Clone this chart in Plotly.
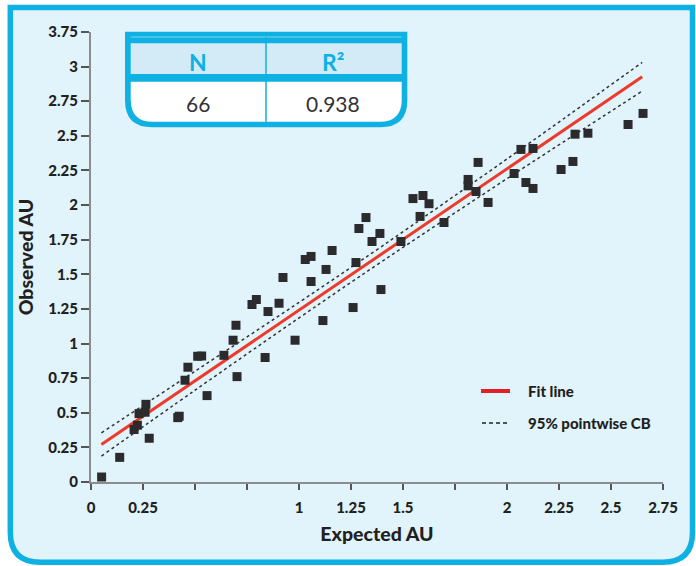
import plotly.graph_objects as go

# ---------------- data ----------------
expected_au = [
    0.051, 0.138, 0.207, 0.223, 0.231, 0.260, 0.264, 0.280, 0.417, 0.424,
    0.452, 0.466, 0.513, 0.532, 0.558, 0.639, 0.683, 0.697, 0.702, 0.774,
    0.795, 0.837, 0.851, 0.904, 0.923, 0.981, 1.030, 1.058, 1.058, 1.115,
    1.130, 1.159, 1.260, 1.274, 1.288, 1.322, 1.351, 1.389, 1.394, 1.490,
    1.548, 1.582, 1.596, 1.625, 1.697, 1.813, 1.813, 1.851, 1.861, 1.909,
    2.034, 2.067, 2.091, 2.125, 2.125, 2.260, 2.317, 2.327, 2.389, 2.582,
    2.654,
]
observed_au = [
    0.036, 0.178, 0.379, 0.410, 0.494, 0.504, 0.561, 0.316, 0.465, 0.475,
    0.735, 0.829, 0.908, 0.910, 0.624, 0.915, 1.024, 1.132, 0.761, 1.282,
    1.318, 0.899, 1.231, 1.291, 1.477, 1.024, 1.607, 1.629, 1.448, 1.166,
    1.535, 1.672, 1.260, 1.585, 1.831, 1.910, 1.737, 1.795, 1.390, 1.737,
    2.047, 1.918, 2.069, 2.010, 1.874, 2.185, 2.139, 2.098, 2.308, 2.019,
    2.228, 2.402, 2.163, 2.409, 2.120, 2.257, 2.315, 2.512, 2.519, 2.582,
    2.662,
]

fit_x = [0.05, 2.65]
fit_y = [0.271, 2.926]

cb_x = [0.05, 0.5, 1.0, 1.4, 2.0, 2.65]
cb_upper = [0.355, 0.800, 1.297, 1.704, 2.333, 3.030]
cb_lower = [0.187, 0.663, 1.185, 1.594, 2.191, 2.823]

x_tickvals = [0, 0.25, 1, 1.25, 1.5, 2, 2.25, 2.5, 2.75]
x_ticktext = ["0", "0.25", "1", "1.25", "1.5", "2", "2.25", "2.5", "2.75"]
y_tickvals = [0, 0.25, 0.5, 0.75, 1, 1.25, 1.5, 1.75, 2, 2.25, 2.5, 2.75, 3, 3.25]
y_ticktext = ["0", "0.25", "0.5", "0.75", "1", "1.25", "1.5", "1.75", "2", "2.25",
              "2.5", "2.75", "3", "3.75"]

table_header = ["N", "R²"]
table_values = ["66", "0.938"]
legend_labels = ["Fit line", "95% pointwise CB"]

# ---------------- layout geometry ----------------
W, H = 696, 566
L, R, T, B = 91, 33, 32, 84
PW, PH = W - L - R, H - T - B

def px(xp):
    return (xp - L) / PW

def py(yp):
    return (H - B - yp) / PH

CYAN = "#0FB1E3"
BG = "#E1F3FB"
HEAD = "#D2EBF7"
DARK = "#231F20"
FONT = "Lato, 'Open Sans', sans-serif"

fig = go.Figure()

fig.add_trace(go.Scatter(
    x=cb_x, y=cb_upper, mode="lines", line=dict(color="#333333", width=1.5, dash="dot", shape="spline"),
    showlegend=False, hoverinfo="skip"))
fig.add_trace(go.Scatter(
    x=cb_x, y=cb_lower, mode="lines", line=dict(color="#333333", width=1.5, dash="dot", shape="spline"),
    showlegend=False, hoverinfo="skip"))
fig.add_trace(go.Scatter(
    x=fit_x, y=fit_y, mode="lines", line=dict(color="#EE3A2A", width=3),
    showlegend=False, hoverinfo="skip"))
fig.add_trace(go.Scatter(
    x=expected_au, y=observed_au, mode="markers",
    marker=dict(symbol="square", size=9, color="#2B2A2C", line=dict(width=0)),
    showlegend=False))

shapes = []

def frame_path(x0, y0, x1, y1, r):
    return (f"M {px(x0)},{py(y0)} L {px(x1)},{py(y0)} "
            f"L {px(x1)},{py(y1 - r)} "
            f"Q {px(x1)},{py(y1)} {px(x1 - r)},{py(y1)} "
            f"L {px(x0 + r)},{py(y1)} "
            f"Q {px(x0)},{py(y1)} {px(x0)},{py(y1 - r)} Z")

shapes.append(dict(type="path", xref="paper", yref="paper", layer="below",
                   path=frame_path(10.3, 7.5, 692.5, 562.3, 30),
                   fillcolor=BG, line=dict(color=CYAN, width=5.5)))

# table
shapes.append(dict(type="path", xref="paper", yref="paper", layer="above",
                   path=frame_path(125, 31.7, 407.3, 127.3, 27),
                   fillcolor=CYAN, line=dict(width=0)))
shapes.append(dict(type="rect", xref="paper", yref="paper", layer="above",
                   x0=px(130.7), x1=px(401.7), y0=py(43.3), y1=py(74),
                   fillcolor=HEAD, line=dict(width=0)))
shapes.append(dict(type="path", xref="paper", yref="paper", layer="above",
                   path=frame_path(130.7, 81.7, 401.7, 121.7, 22),
                   fillcolor="white", line=dict(width=0)))
shapes.append(dict(type="line", xref="paper", yref="paper", layer="above",
                   x0=px(130.7), x1=px(401.7), y0=py(37), y1=py(37),
                   line=dict(color="#7FD3F0", width=1)))
shapes.append(dict(type="line", xref="paper", yref="paper", layer="above",
                   x0=px(266), x1=px(266), y0=py(37), y1=py(122),
                   line=dict(color=CYAN, width=1.5)))

# manual legend
shapes.append(dict(type="line", xref="paper", yref="paper", layer="above",
                   x0=px(481), x1=px(510), y0=py(391), y1=py(391),
                   line=dict(color="#E3202A", width=4)))
shapes.append(dict(type="line", xref="paper", yref="paper", layer="above",
                   x0=px(482), x1=px(510), y0=py(423), y1=py(423),
                   line=dict(color="#222222", width=1.6, dash="4px,3px")))

annotations = []
for lbl, xc in zip(table_header, [198, 333]):
    annotations.append(dict(xref="paper", yref="paper", x=px(xc), y=py(61.5), text=f"<b>{lbl}</b>",
                            showarrow=False, xanchor="center", yanchor="middle",
                            font=dict(family=FONT, size=23, color=CYAN, weight=900)))
for val, xc in zip(table_values, [198, 333]):
    annotations.append(dict(xref="paper", yref="paper", x=px(xc), y=py(103.5), text=val,
                            showarrow=False, xanchor="center", yanchor="middle",
                            font=dict(family=FONT, size=21, color="#333333")))
for lbl, yc in zip(legend_labels, [391, 423]):
    annotations.append(dict(xref="paper", yref="paper", x=px(526), y=py(yc), text=lbl,
                            showarrow=False, xanchor="left", yanchor="middle",
                            font=dict(family=FONT, size=15, color=DARK, weight=900)))

fig.update_layout(
    width=W, height=H,
    margin=dict(l=L, r=R, t=T, b=B, autoexpand=False),
    paper_bgcolor="white",
    plot_bgcolor="rgba(0,0,0,0)",
    font=dict(family=FONT, color=DARK),
    shapes=shapes,
    annotations=annotations,
    showlegend=False,
    xaxis=dict(
        range=[0, 2.75], tickmode="array", tickvals=x_tickvals, ticktext=x_ticktext,
        showgrid=False, zeroline=False, showline=True, linecolor="#8C8C8C", linewidth=2,
        ticks="outside", ticklen=6, tickwidth=1.5, tickcolor="#555555",
        minor=dict(ticks="outside", tick0=0, dtick=0.25, ticklen=6, tickwidth=1.5,
                   tickcolor="#555555", showgrid=False),
        tickfont=dict(family=FONT, size=15, color=DARK, weight=900),
        ticklabelstandoff=5,
        title=dict(text="Expected AU", font=dict(family=FONT, size=19.5, color=DARK, weight=900),
                   standoff=12),
    ),
    yaxis=dict(
        range=[0, 3.25], tickmode="array", tickvals=y_tickvals, ticktext=y_ticktext,
        showgrid=False, zeroline=False, showline=True, linecolor="#8C8C8C", linewidth=2,
        ticks="outside", ticklen=8, tickwidth=1.5, tickcolor="#555555",
        tickfont=dict(family=FONT, size=15, color=DARK, weight=900),
        title=dict(text="Observed AU", font=dict(family=FONT, size=19.5, color=DARK, weight=900),
                   standoff=10),
    ),
)

fig.write_html("out.html", config={"displayModeBar": False},
               post_script="document.body.style.margin='0';document.body.style.overflow='hidden';")
